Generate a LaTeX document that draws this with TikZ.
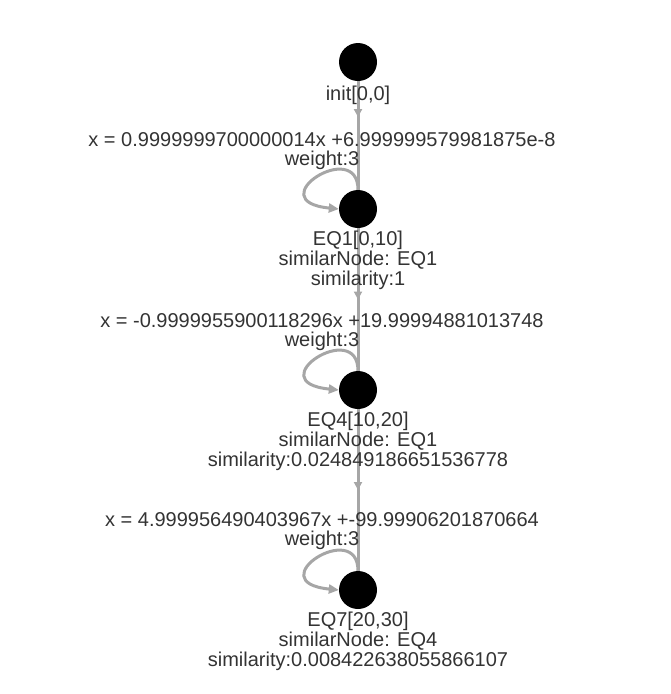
\documentclass[tikz,border=0pt]{standalone}
\usepackage{fontspec}
\setmainfont{Liberation Sans}
\usetikzlibrary{arrows.meta,decorations.markings,calc}
\definecolor{edgegray}{HTML}{A6A6A6}
\definecolor{txt}{HTML}{333333}
\begin{document}
\begin{tikzpicture}[x=1pt,y=-1pt,
  dot/.style={circle,fill=black,minimum size=38pt,inner sep=0pt},
  nlabel/.style={text=txt,font=\fontsize{20}{20}\selectfont,align=center,inner sep=0pt,anchor=north},
  elabel/.style={text=txt,font=\fontsize{20}{19}\selectfont,align=center,inner sep=0pt,anchor=north},
  link/.style={color=edgegray,line width=3pt},
  loopedge/.style={color=edgegray,line width=3pt,-{Triangle[length=10pt,width=9pt]}},
  midarrow/.style={postaction={decorate},decoration={markings,mark=at position #1 with {\arrow{Triangle[length=8pt,width=8pt]}}}}
]
\useasboundingbox (0,0) rectangle (670,694);

% nodes
\node[dot] (init) at (358,62) {};
\node[dot] (EQ1) at (358,209) {};
\node[dot] (EQ4) at (358,390) {};
\node[dot] (EQ7) at (358,590) {};

% edges between nodes
\draw[link,midarrow=0.33] (init) -- (EQ1);
\draw[link,midarrow=0.5] (EQ1) -- (EQ4);
\draw[link,midarrow=0.5] (EQ4) -- (EQ7);

% self loops with their labels
\draw[loopedge] (EQ1.north) .. controls ($(EQ1)+(0,-72)$) and ($(EQ1)+(-100,-8)$) .. (EQ1.west)
  node[elabel] (EQ1eq) at ($(EQ1)+(-36,-77.5)$) {x = 0.9999999700000014x +6.999999579981875e-8\\weight:3};
\draw[loopedge] (EQ4.north) .. controls ($(EQ4)+(0,-72)$) and ($(EQ4)+(-100,-8)$) .. (EQ4.west)
  node[elabel] (EQ4eq) at ($(EQ4)+(-36,-77.5)$) {x = -0.9999955900118296x +19.99994881013748\\weight:3};
\draw[loopedge] (EQ7.north) .. controls ($(EQ7)+(0,-72)$) and ($(EQ7)+(-100,-8)$) .. (EQ7.west)
  node[elabel] (EQ7eq) at ($(EQ7)+(-36,-79)$) {x = 4.999956490403967x +-99.99906201870664\\weight:3};

% node labels
\node[nlabel] (initL) at (358,85.5) {init[0,0]};
\node[nlabel] (EQ1L) at (358,230.5) {EQ1[0,10]\\similarNode: EQ1\\similarity:1};
\node[nlabel] (EQ4L) at (358,411.5) {EQ4[10,20]\\similarNode: EQ1\\similarity:0.024849186651536778};
\node[nlabel] (EQ7L) at (358,611.5) {EQ7[20,30]\\similarNode: EQ4\\similarity:0.008422638055866107};
\end{tikzpicture}
\end{document}
